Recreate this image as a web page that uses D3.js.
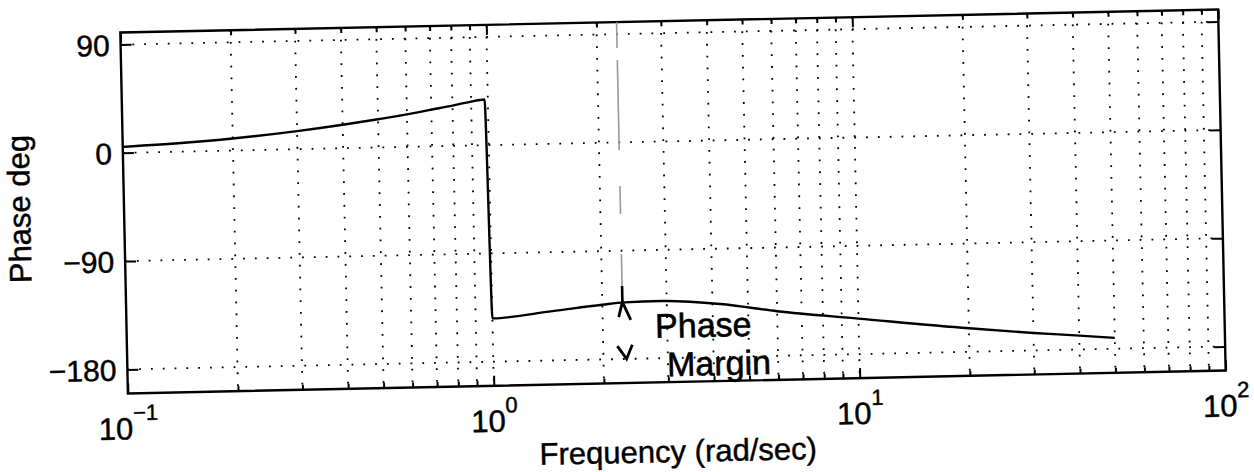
<!DOCTYPE html>
<html>
<head>
<meta charset="utf-8">
<script src="https://cdn.jsdelivr.net/npm/d3@7"></script>
<style>
  body { margin: 0; background: #fff; }
  svg { display: block; }
  text { font-family: "Liberation Sans", Arial, Helvetica, sans-serif; fill: #000; stroke: #000; stroke-width: 0.45; }
</style>
</head>
<body>
<div id="chart"></div>
<script>
// phase curve
const freq  = [0.1, 0.15, 0.2, 0.3, 0.4, 0.5, 0.6, 0.7, 0.8, 0.9, 0.98, 1.0, 1.46, 2.0, 2.3, 2.9, 4.2, 6.0, 10, 20, 30, 40, 50];
const phase = [5, 7.5, 10, 15, 19.5, 23.5, 27, 30.5, 33.5, 36.5, 38, -144, -139, -134.5, -133, -132.5, -136, -143, -150.5, -160.5, -165.5, -168.5, -171];

const yTicks = [90, 0, -90, -180];
const yTickLabels = ["90", "0", "\u221290", "\u2212180"];
const decades = [-1, 0, 1, 2];
const decadeLabels = ["\u22121", "0", "1", "2"];

// hand-written note
const pmFreq = 2.27;
const pmPhase = -131;
const noteLines = [
  { text: "Phase", f: 2.78, p: -163 },
  { text: "Margin", f: 2.98, p: -195 }
];

const W = 1254, H = 472;
const margin = { left: 124, right: 32, top: 21, bottom: 90 };
const iw = W - margin.left - margin.right;
const ih = H - margin.top - margin.bottom;

const svg = d3.select("#chart").append("svg")
    .attr("width", W)
    .attr("height", H);

svg.append("rect").attr("width", W).attr("height", H).attr("fill", "#fff");

// the scan is a bit tilted
const g = svg.append("g")
    .attr("transform", `rotate(-1.2, ${margin.left + iw / 2}, ${margin.top + ih / 2}) translate(${margin.left},${margin.top})`);

const x = d3.scaleLog().domain([0.1, 100]).range([0, iw]);
const y = d3.scaleLinear().domain([-200, 100]).range([ih, 0]);

const minor = [];
decades.slice(0, 3).forEach(d => {
  for (let k = 2; k <= 9; k++) minor.push(k * Math.pow(10, d));
});
const major = decades.map(d => Math.pow(10, d));

// dotted grid
const grid = g.append("g")
    .attr("stroke", "#000")
    .attr("stroke-width", 1.8)
    .attr("stroke-dasharray", "1.8 10");

grid.selectAll(".vg")
  .data(minor.concat(major.slice(1, 3)))
  .enter().append("line")
    .attr("x1", d => x(d)).attr("x2", d => x(d))
    .attr("y1", 0).attr("y2", ih);

grid.selectAll(".hg")
  .data(yTicks)
  .enter().append("line")
    .attr("x1", 0).attr("x2", iw)
    .attr("y1", d => y(d)).attr("y2", d => y(d));

// ticks (inward, like matlab)
function tickAxis(axis, vals, size) {
  return axis.tickValues(vals).tickSizeInner(-size).tickSizeOuter(0).tickFormat("");
}
const axes = [
  g.append("g").attr("transform", `translate(0,${ih})`).call(tickAxis(d3.axisBottom(x), minor, 5)),
  g.append("g").attr("transform", `translate(0,${ih})`).call(tickAxis(d3.axisBottom(x), major, 10)),
  g.append("g").call(tickAxis(d3.axisTop(x), minor, 5)),
  g.append("g").call(tickAxis(d3.axisTop(x), major, 10)),
  g.append("g").call(tickAxis(d3.axisLeft(y), yTicks, 11)),
  g.append("g").attr("transform", `translate(${iw},0)`).call(tickAxis(d3.axisRight(y), yTicks, 11))
];
axes.forEach(a => {
  a.select(".domain").remove();
  a.selectAll("line").attr("stroke", "#000").attr("stroke-width", 2);
});

// frame
g.append("rect")
    .attr("width", iw).attr("height", ih)
    .attr("fill", "none").attr("stroke", "#000").attr("stroke-width", 2.4);

// y tick labels
g.selectAll(".yl")
  .data(yTicks)
  .enter().append("text")
    .attr("x", -11)
    .attr("y", d => y(d) + 11)
    .attr("text-anchor", "end")
    .attr("font-size", 30)
    .text((d, i) => yTickLabels[i]);

// x tick labels 10^n
const xl = g.selectAll(".xl")
  .data(decades)
  .enter().append("text")
    .attr("x", d => x(Math.pow(10, d)))
    .attr("y", ih + 46)
    .attr("text-anchor", "middle")
    .attr("font-size", 31);
xl.append("tspan").text("10");
xl.append("tspan")
    .attr("font-size", 22)
    .attr("dy", -19)
    .text((d, i) => decadeLabels[i]);

// axis titles
g.append("text")
    .attr("x", iw / 2)
    .attr("y", ih + 80)
    .attr("text-anchor", "middle")
    .attr("font-size", 31)
    .text("Frequency (rad/sec)");

g.append("text")
    .attr("transform", `translate(${-94},${y(-45)}) rotate(-90)`)
    .attr("text-anchor", "middle")
    .attr("font-size", 31)
    .text("Phase deg");

// phase curve
const line = d3.line()
    .x((d, i) => x(freq[i]))
    .y(d => y(d))
    .curve(d3.curveMonotoneX);

g.append("path")
    .datum(phase)
    .attr("d", line)
    .attr("fill", "none")
    .attr("stroke", "#000")
    .attr("stroke-width", 2.4);

// pencil note
const note = g.append("g");
note.append("line")
    .attr("x1", x(pmFreq)).attr("x2", x(pmFreq))
    .attr("y1", y(100)).attr("y2", y(pmPhase))
    .attr("stroke", "#9a9a9a")
    .attr("stroke-width", 1.6)
    .attr("stroke-dasharray", "26 12 90 36 28 40 46 0");

const ax = x(pmFreq);
note.append("path")
    .attr("d", `M${ax},${y(pmPhase) + 2} L${ax},${y(pmPhase) - 14}`)
    .attr("stroke", "#000").attr("stroke-width", 2.6);
note.append("path")
    .attr("d", `M${ax - 4},${y(pmPhase) + 17} L${ax},${y(pmPhase) + 2} L${ax + 8},${y(pmPhase) + 20}`)
    .attr("fill", "none").attr("stroke", "#000").attr("stroke-width", 2.8);
note.append("path")
    .attr("d", `M${ax - 6},${y(-180) - 13} L${ax + 3},${y(-180)} L${ax + 9},${y(-180) - 14}`)
    .attr("fill", "none").attr("stroke", "#000").attr("stroke-width", 2.8);

note.selectAll(".nt")
  .data(noteLines)
  .enter().append("text")
    .attr("x", d => x(d.f))
    .attr("y", d => y(d.p))
    .attr("font-family", "'DejaVu Sans', sans-serif")
    .attr("font-size", 34)
    .style("stroke-width", 0.6)
    .text(d => d.text);
</script>
</body>
</html>
